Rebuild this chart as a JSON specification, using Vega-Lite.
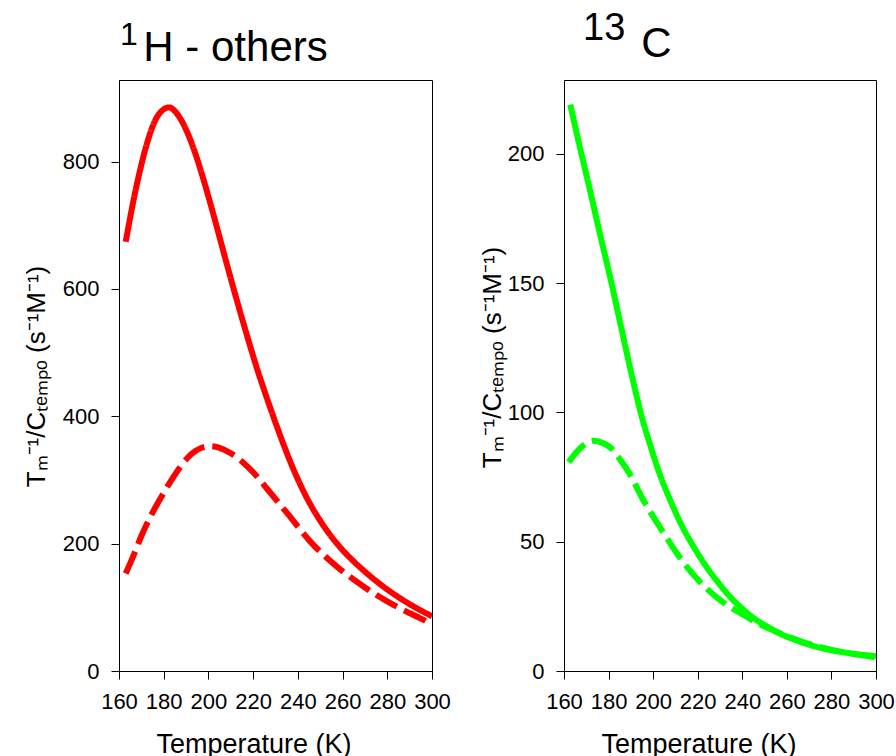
{
  "$schema": "https://vega.github.io/schema/vega-lite/v6.json",
  "background": "white",
  "padding": {"left": 22, "top": 9, "right": 0, "bottom": 0},
  "align": "none",
  "bounds": "full",
  "spacing": 27,
  "config": {
    "font": "Liberation Sans",
    "view": {"stroke": "black", "strokeWidth": 1},
    "axis": {
      "grid": false,
      "domainColor": "black",
      "domainWidth": 1,
      "tickColor": "black",
      "tickWidth": 1,
      "tickSize": 8,
      "labelFontSize": 22,
      "labelColor": "black",
      "labelPadding": 12,
      "labelFlush": false,
      "labelOverlap": false,
      "labelBound": false,
      "titleFontSize": 27,
      "titleFontWeight": "normal",
      "titleColor": "black"
    },
    "title": {"anchor": "start", "frame": "group", "fontWeight": "normal", "color": "black", "subtitleColor": "black", "subtitleFontWeight": "normal"}
  },
  "datasets": {
    "h": [
      {"T": 163, "v": 674, "s": "solid"},
      {"T": 165, "v": 712, "s": "solid"},
      {"T": 167, "v": 748, "s": "solid"},
      {"T": 169, "v": 780, "s": "solid"},
      {"T": 171, "v": 809, "s": "solid"},
      {"T": 173, "v": 834, "s": "solid"},
      {"T": 175, "v": 855, "s": "solid"},
      {"T": 177, "v": 870, "s": "solid"},
      {"T": 179, "v": 879, "s": "solid"},
      {"T": 181, "v": 884, "s": "solid"},
      {"T": 182.5, "v": 885, "s": "solid"},
      {"T": 185, "v": 879, "s": "solid"},
      {"T": 188, "v": 864, "s": "solid"},
      {"T": 191, "v": 842, "s": "solid"},
      {"T": 194, "v": 814, "s": "solid"},
      {"T": 197, "v": 781, "s": "solid"},
      {"T": 200, "v": 745, "s": "solid"},
      {"T": 203, "v": 707, "s": "solid"},
      {"T": 206, "v": 668, "s": "solid"},
      {"T": 209, "v": 629, "s": "solid"},
      {"T": 212, "v": 591, "s": "solid"},
      {"T": 215, "v": 554, "s": "solid"},
      {"T": 218, "v": 518, "s": "solid"},
      {"T": 222, "v": 472, "s": "solid"},
      {"T": 226, "v": 430, "s": "solid"},
      {"T": 230, "v": 390, "s": "solid"},
      {"T": 234, "v": 352, "s": "solid"},
      {"T": 238, "v": 317, "s": "solid"},
      {"T": 242, "v": 286, "s": "solid"},
      {"T": 246, "v": 259, "s": "solid"},
      {"T": 250, "v": 236, "s": "solid"},
      {"T": 255, "v": 211, "s": "solid"},
      {"T": 260, "v": 190, "s": "solid"},
      {"T": 265, "v": 172, "s": "solid"},
      {"T": 270, "v": 156, "s": "solid"},
      {"T": 280, "v": 128, "s": "solid"},
      {"T": 290, "v": 105, "s": "solid"},
      {"T": 300, "v": 86, "s": "solid"},
      {"T": 163, "v": 153, "s": "dashed"},
      {"T": 166.8, "v": 184, "s": "dashed"},
      {"T": 170, "v": 212, "s": "dashed"},
      {"T": 174.3, "v": 244, "s": "dashed"},
      {"T": 180.2, "v": 281, "s": "dashed"},
      {"T": 184, "v": 303, "s": "dashed"},
      {"T": 187.7, "v": 322, "s": "dashed"},
      {"T": 191, "v": 336, "s": "dashed"},
      {"T": 194, "v": 345, "s": "dashed"},
      {"T": 197, "v": 350.5, "s": "dashed"},
      {"T": 201, "v": 353, "s": "dashed"},
      {"T": 205, "v": 350.5, "s": "dashed"},
      {"T": 210, "v": 342, "s": "dashed"},
      {"T": 215, "v": 329, "s": "dashed"},
      {"T": 220, "v": 312, "s": "dashed"},
      {"T": 226.5, "v": 285, "s": "dashed"},
      {"T": 235.4, "v": 247, "s": "dashed"},
      {"T": 245.9, "v": 202, "s": "dashed"},
      {"T": 257.8, "v": 163, "s": "dashed"},
      {"T": 269.7, "v": 132, "s": "dashed"},
      {"T": 283.2, "v": 103, "s": "dashed"},
      {"T": 295.8, "v": 81, "s": "dashed"},
      {"T": 298, "v": 77, "s": "dashed"}
    ],
    "c": [
      {"T": 162.8, "v": 219, "s": "solid"},
      {"T": 167, "v": 203, "s": "solid"},
      {"T": 171.1, "v": 188, "s": "solid"},
      {"T": 176, "v": 169.5, "s": "solid"},
      {"T": 181.3, "v": 150, "s": "solid"},
      {"T": 186, "v": 131.5, "s": "solid"},
      {"T": 191.3, "v": 111, "s": "solid"},
      {"T": 195, "v": 98, "s": "solid"},
      {"T": 199, "v": 86.5, "s": "solid"},
      {"T": 203, "v": 76, "s": "solid"},
      {"T": 207.5, "v": 66.4, "s": "solid"},
      {"T": 213, "v": 56, "s": "solid"},
      {"T": 218.9, "v": 47, "s": "solid"},
      {"T": 224, "v": 40.2, "s": "solid"},
      {"T": 229.4, "v": 34, "s": "solid"},
      {"T": 234.5, "v": 28.7, "s": "solid"},
      {"T": 239.9, "v": 24.2, "s": "solid"},
      {"T": 245.5, "v": 20.2, "s": "solid"},
      {"T": 251.9, "v": 16.8, "s": "solid"},
      {"T": 257.5, "v": 14.2, "s": "solid"},
      {"T": 263.8, "v": 12, "s": "solid"},
      {"T": 271, "v": 9.9, "s": "solid"},
      {"T": 278.8, "v": 8.2, "s": "solid"},
      {"T": 289, "v": 6.8, "s": "solid"},
      {"T": 300, "v": 5.7, "s": "solid"},
      {"T": 162.1, "v": 80.7, "s": "dashed"},
      {"T": 166, "v": 85, "s": "dashed"},
      {"T": 170, "v": 88, "s": "dashed"},
      {"T": 173.3, "v": 89, "s": "dashed"},
      {"T": 177, "v": 88.3, "s": "dashed"},
      {"T": 181.5, "v": 85.9, "s": "dashed"},
      {"T": 185, "v": 82, "s": "dashed"},
      {"T": 189, "v": 76.9, "s": "dashed"},
      {"T": 195.7, "v": 65.9, "s": "dashed"},
      {"T": 204, "v": 54.3, "s": "dashed"},
      {"T": 211.5, "v": 44.5, "s": "dashed"},
      {"T": 217, "v": 38.3, "s": "dashed"},
      {"T": 223.5, "v": 32.3, "s": "dashed"},
      {"T": 231, "v": 26.8, "s": "dashed"},
      {"T": 239.9, "v": 22, "s": "dashed"},
      {"T": 247.4, "v": 18.3, "s": "dashed"},
      {"T": 256.4, "v": 14.8, "s": "dashed"},
      {"T": 266.9, "v": 11.3, "s": "dashed"},
      {"T": 281.7, "v": 7.9, "s": "dashed"},
      {"T": 299.7, "v": 5.3, "s": "dashed"}
    ]
  },
  "hconcat": [
    {
      "width": 313,
      "height": 591,
      "title": {"text": "1", "subtitle": "\u200b\u00a0\u00a0H - others", "fontSize": 32, "subtitleFontSize": 42, "subtitlePadding": -24, "dx": 1, "offset": 10},
      "data": {"name": "h"},
      "mark": {"type": "line", "color": "#ff0000", "strokeWidth": 6, "interpolate": "monotone", "clip": true},
      "encoding": {
        "x": {"field": "T", "type": "quantitative", "scale": {"domain": [160, 300], "nice": false, "zero": false},
              "axis": {"values": [160, 180, 200, 220, 240, 260, 280, 300], "title": "Temperature (K)", "titleX": 134.5, "titleY": 81, "titleBaseline": "alphabetic", "titleAnchor": "middle"}},
        "y": {"field": "v", "type": "quantitative", "scale": {"domain": [0, 928], "nice": false},
              "axis": {"values": [0, 200, 400, 600, 800], "title": "Tₘ⁻¹/Cₜₑₘₚₒ (s⁻¹M⁻¹)", "titleFontSize": 26, "titleX": -83, "titleY": 296, "titleBaseline": "middle", "titleAlign": "center"}},
        "strokeDash": {"field": "s", "type": "nominal", "scale": {"domain": ["solid", "dashed"], "range": [[1, 0], [24, 8]]}, "legend": null}
      }
    },
    {
      "width": 312,
      "height": 591,
      "title": {"text": "13", "subtitle": "\u200b\u00a0\u00a0\u00a0\u00a0\u00a0C", "fontSize": 38, "subtitleFontSize": 42, "subtitlePadding": -24.5, "dx": 19, "offset": 15.5},
      "data": {"name": "c"},
      "mark": {"type": "line", "color": "#00ff00", "strokeWidth": 6, "interpolate": "monotone", "clip": true},
      "encoding": {
        "x": {"field": "T", "type": "quantitative", "scale": {"domain": [160, 300], "nice": false, "zero": false},
              "axis": {"values": [160, 180, 200, 220, 240, 260, 280, 300], "title": "Temperature (K)", "titleX": 134.5, "titleY": 81, "titleBaseline": "alphabetic", "titleAnchor": "middle"}},
        "y": {"field": "v", "type": "quantitative", "scale": {"domain": [0, 228.5], "nice": false},
              "axis": {"values": [0, 50, 100, 150, 200], "title": "Tₘ⁻¹/Cₜₑₘₚₒ (s⁻¹M⁻¹)", "titleFontSize": 26, "titleX": -72, "titleY": 277, "titleBaseline": "middle", "titleAlign": "center"}},
        "strokeDash": {"field": "s", "type": "nominal", "scale": {"domain": ["solid", "dashed"], "range": [[1, 0], [24, 8]]}, "legend": null}
      }
    }
  ]
}
